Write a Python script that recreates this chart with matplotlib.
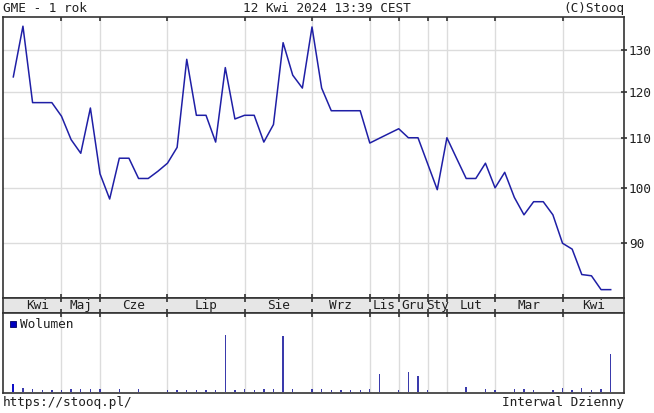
import numpy as np
import matplotlib
matplotlib.use("Agg")
import matplotlib.pyplot as plt
from matplotlib.patches import Rectangle

plt.rcParams["font.family"] = ["DejaVu Sans Mono", "DejaVu Sans"]

# daily closes (sessions with trades only)
price = [123.5, 136.0, 117.6, 117.6, 117.6, 114.6, 109.6, 106.8, 116.4, 102.7,
         97.9, 105.8, 105.8, 101.8, 101.8, 103.2, 104.8, 108.0, 127.7, 114.8,
         114.8, 109.1, 125.7, 114.0, 114.8, 114.8, 109.1, 112.8, 131.8, 123.9,
         120.9, 135.8, 120.9, 115.8, 115.8, 115.8, 115.8, 108.9, 109.9, 110.9,
         111.9, 110.0, 110.0, 104.7, 99.65, 110.0, 105.8, 101.8, 101.8, 104.8,
         100.0, 103.0, 98.2, 95.0, 97.4, 97.4, 95.0, 90.0, 89.0, 84.8,
         84.6, 82.4, 82.4]

volume = [25, 13, 11, 8, 8, 8, 9, 9, 10, 10,
          0, 10, 0, 9, 0, 0, 8, 8, 8, 8,
          8, 8, 175, 8, 9, 8, 9, 10, 171, 9,
          0, 10, 9, 8, 8, 8, 8, 10, 56, 0,
          8, 63, 49, 8, 0, 0, 0, 17, 0, 10,
          8, 0, 9, 10, 8, 0, 8, 13, 8, 12,
          8, 10, 116]

# index of first session in each month
month_starts = [5, 9, 16, 24, 31, 37, 40, 43, 45, 50, 57]
month_names = ["Kwi", "Maj", "Cze", "Lip", "Sie", "Wrz", "Lis", "Gru", "Sty",
               "Lut", "Mar", "Kwi"]
y_ticks = [90, 100, 110, 120, 130]

x = np.arange(len(price))
xmin, xmax = -1.07, 63.38

W, H = 654, 413
fig = plt.figure(figsize=(W / 100, H / 100), dpi=100)


def box(l, t, r, b):
    return [l / W, 1 - b / H, (r - l) / W, (b - t) / H]


line_col = "#1f1fa6"
bar_col = "#3a3aac"
grid_col = "#dcdcdc"
spine_col = "#333333"
fs = 9.2

ax = fig.add_axes(box(3, 17, 624, 298))
strip = fig.add_axes(box(3, 298, 624, 312.5))
axv = fig.add_axes(box(3, 312.5, 624, 393.3))

for a in (ax, strip, axv):
    a.set_xlim(xmin, xmax)
    for s in a.spines.values():
        s.set_color(spine_col)
        s.set_linewidth(1.2)
    a.set_xticks(month_starts)
    a.tick_params(axis="x", direction="in", length=3, width=1.2,
                  color=spine_col, labelbottom=False)

# price panel
ax.plot(x, price, color=line_col, lw=1.1, zorder=3)
ax.set_yscale("log")
ax.set_ylim(81.1, 138.4)
ax.set_yticks(y_ticks, labels=[str(v) for v in y_ticks])
ax.minorticks_off()
ax.yaxis.tick_right()
ax.tick_params(axis="y", direction="inout", length=4, width=1.2,
               color=spine_col, pad=1.5, labelsize=fs, labelcolor="#202020")
ax.tick_params(axis="x", top=True, bottom=True)
for v in y_ticks:
    ax.axhline(v, color=grid_col, lw=1.0, zorder=1)
for b in month_starts:
    ax.axvline(b, color=grid_col, lw=1.0, zorder=1)

# month strip
strip.set_facecolor("#e6e6e6")
strip.set_ylim(0, 1)
strip.set_yticks([])
strip.tick_params(axis="x", top=True, bottom=True)
bounds = [0] + month_starts + [xmax]
for i, name in enumerate(month_names):
    strip.text((bounds[i] + bounds[i + 1]) / 2, 0.45, name, ha="center",
               va="center", fontsize=fs, color="#202020")

# volume panel
axv.bar(x, volume, width=0.14, color=bar_col, zorder=2)
axv.bar(x[:1], volume[:1], width=0.22, color="#1010c8", zorder=2)
axv.set_ylim(-3, 243)
axv.set_yticks([])
axv.tick_params(axis="x", top=True, bottom=False)
for b in month_starts:
    axv.axvline(b, color=grid_col, lw=1.0, zorder=1)

fig.add_artist(Rectangle((10 / W, 1 - 327 / H), 6 / W, 6 / H,
                         facecolor="#0000c0", edgecolor="#000060", lw=0.6))
fig.text(20 / W, 1 - 324.5 / H, "Wolumen", fontsize=fs, va="center",
         color="#202020")

# header and footer
fig.text(3 / W, 1 - 11.7 / H, "GME - 1 rok", fontsize=fs, va="baseline",
         color="#202020")
fig.text(327 / W, 1 - 11.7 / H, "12 Kwi 2024 13:39 CEST", fontsize=fs,
         ha="center", va="baseline", color="#202020")
fig.text(624 / W, 1 - 11.7 / H, "(C)Stooq", fontsize=fs, ha="right",
         va="baseline", color="#202020")
fig.text(3 / W, 1 - 406 / H, "https://stooq.pl/", fontsize=fs,
         va="baseline", color="#202020")
fig.text(624 / W, 1 - 406 / H, "Interwal Dzienny", fontsize=fs, ha="right",
         va="baseline", color="#202020")

fig.savefig("out.png", dpi=100)
